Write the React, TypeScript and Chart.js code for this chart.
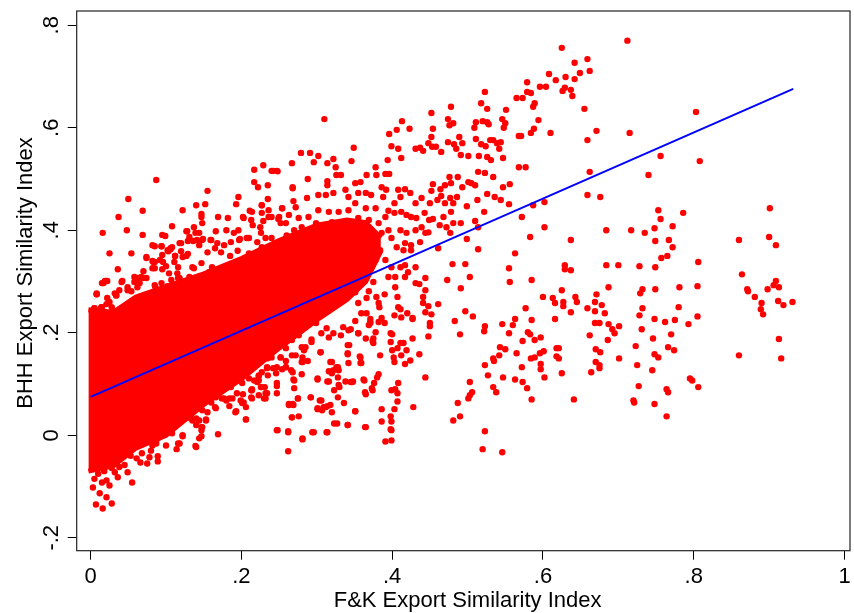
import { useEffect, useRef } from "react";
import { Chart, registerables } from "chart.js";

Chart.register(...registerables);

// Axis ticks and titles
const xTicks = [0, 0.2, 0.4, 0.6, 0.8, 1];
const xTickLabels = ["0", ".2", ".4", ".6", ".8", "1"];
const yTicks = [-0.2, 0, 0.2, 0.4, 0.6, 0.8];
const yTickLabels = ["-.2", "0", ".2", ".4", ".6", ".8"];
const xTitle = "F&K Export Similarity Index";
const yTitle = "BHH Export Similarity Index";

// Fitted line (end points)
const fitX = [0, 0.932];
const fitY = [0.075, 0.676];

// Overplotted core of the cloud (solid red band)
const coreX = [-0.003, 0.03, 0.06, 0.1, 0.15, 0.2, 0.25, 0.3, 0.34, 0.365, 0.385];
const coreUpper = [0.245, 0.24, 0.27, 0.29, 0.315, 0.345, 0.38, 0.41, 0.42, 0.415, 0.385];
const coreLower = [-0.07, -0.06, -0.025, 0.0, 0.06, 0.11, 0.17, 0.225, 0.265, 0.3, 0.36];

// Scattered points, by region of the plot
const leftTail: [number, number][] = [
  [0.007, -0.135], [0.016, -0.143], [0.021, -0.121], [0.028, -0.133], [0.012, -0.113], [0.003, -0.102],
  [0.025, -0.098], [0.021, -0.088], [0.036, -0.082], [0.055, -0.092], [0.049, -0.072], [0.028, -0.064],
  [0.038, -0.062], [0.061, -0.045], [0.066, -0.053], [0.075, -0.055], [0.089, -0.051], [0.089, -0.041],
  [0.078, -0.043], [0.1, -0.02], [0.114, -0.027], [0.116, -0.016], [0.087, -0.016], [0.091, -0.004],
  [0.108, 0.004], [0.122, -0.002], [0.139, -0.021], [0.169, 0.002], [0.147, -0.002], [0.148, 0.016],
  [0.14, 0.02], [0.153, 0.031], [0.144, 0.029], [0.133, 0.033], [0.141, 0.055], [0.148, 0.063],
  [0.165, 0.055], [0.177, 0.072], [0.184, 0.072], [0.193, 0.047], [0.206, 0.031], [0.201, 0.063],
  [0.213, 0.074], [0.202, 0.08], [0.214, 0.09], [0.232, 0.082], [0.226, 0.094], [0.201, 0.102],
  [0.186, 0.094], [0.173, 0.094], [0.166, 0.082], [0.223, 0.107], [0.227, 0.123],
  [0.005, -0.085], [0.01, -0.075], [0.015, -0.092], [0.018, -0.07], [0.032, -0.072], [0.045, -0.058],
  [0.053, -0.04], [0.068, -0.035], [0.08, -0.03],
];

const edgeLower: [number, number][] = [
  [0.144, -0.006], [0.14, -0.023], [0.122, 0.0], [0.118, -0.016], [0.147, 0.01], [0.135, 0.029],
  [0.147, 0.016], [0.153, 0.029], [0.14, 0.033], [0.131, 0.035], [0.148, 0.049], [0.155, 0.045],
  [0.166, 0.053], [0.18, 0.068], [0.174, 0.072], [0.188, 0.072], [0.184, 0.057], [0.192, 0.045],
  [0.206, 0.031], [0.206, 0.055], [0.199, 0.068], [0.194, 0.082], [0.203, 0.064], [0.213, 0.088],
  [0.214, 0.072], [0.223, 0.078], [0.232, 0.072], [0.231, 0.094], [0.221, 0.104], [0.21, 0.111],
  [0.223, 0.117], [0.235, 0.117], [0.247, 0.102], [0.247, 0.082], [0.246, 0.121], [0.259, 0.133],
  [0.266, 0.127], [0.27, 0.107], [0.27, 0.092], [0.247, 0.01], [0.262, 0.006], [0.267, 0.035],
  [0.263, 0.059], [0.268, 0.061], [0.275, 0.072], [0.281, -0.006], [0.294, 0.006], [0.313, 0.006],
  [0.292, 0.074], [0.301, 0.111], [0.306, 0.068], [0.316, 0.105], [0.32, 0.121], [0.318, 0.143],
  [0.329, 0.127], [0.328, 0.133], [0.323, 0.088], [0.33, 0.094], [0.341, 0.158], [0.341, 0.176],
  [0.357, 0.154], [0.358, 0.141], [0.345, 0.104], [0.347, 0.104], [0.363, 0.107], [0.373, 0.092],
  [0.364, 0.084], [0.351, 0.047], [0.318, 0.059], [0.307, 0.049], [0.301, 0.053], [0.312, 0.055],
  [0.323, 0.023], [0.341, 0.02], [0.364, 0.016], [0.316, 0.191], [0.322, 0.199], [0.332, 0.195],
  [0.335, 0.211], [0.342, 0.205], [0.355, 0.199], [0.369, 0.215], [0.371, 0.221], [0.375, 0.189],
  [0.382, 0.221], [0.306, 0.199], [0.305, 0.162], [0.293, 0.187], [0.285, 0.172], [0.281, 0.143],
  [0.281, 0.152], [0.272, 0.156], [0.267, 0.186], [0.276, 0.195], [0.283, 0.211], [0.299, 0.219],
  [0.313, 0.209], [0.259, 0.145], [0.247, 0.133], [0.234, 0.133], [0.259, 0.17], [0.252, 0.152],
  [0.236, 0.152], [0.223, 0.152], [0.21, 0.133], [0.197, 0.121], [0.188, 0.104], [0.18, 0.094],
  [0.166, 0.074], [0.16, 0.064], [0.144, 0.055], [0.131, 0.049], [0.122, 0.033], [0.115, 0.023],
  [0.104, 0.016], [0.095, 0.004], [0.087, -0.01], [0.082, -0.02],
];

const edgeUpper: [number, number][] = [
  [0.094, 0.369], [0.074, 0.348], [0.082, 0.34], [0.085, 0.326], [0.095, 0.324], [0.102, 0.361],
  [0.106, 0.365], [0.112, 0.35], [0.111, 0.338], [0.12, 0.359], [0.122, 0.348], [0.129, 0.354],
  [0.12, 0.375], [0.128, 0.398], [0.137, 0.406], [0.139, 0.395], [0.131, 0.387], [0.141, 0.381],
  [0.148, 0.381], [0.147, 0.426], [0.16, 0.381], [0.168, 0.375], [0.177, 0.371], [0.186, 0.377],
  [0.196, 0.4], [0.198, 0.383], [0.202, 0.426], [0.213, 0.42], [0.215, 0.41], [0.225, 0.406],
  [0.229, 0.418], [0.236, 0.426], [0.249, 0.422], [0.252, 0.414], [0.221, 0.377], [0.232, 0.385],
  [0.24, 0.385], [0.247, 0.367], [0.227, 0.367], [0.137, 0.326], [0.147, 0.336], [0.155, 0.357],
  [0.165, 0.365], [0.173, 0.357], [0.096, 0.338], [0.116, 0.307], [0.062, 0.307], [0.074, 0.307],
  [0.058, 0.299], [0.019, 0.301], [0.015, 0.297], [0.008, 0.275], [0.034, 0.273], [0.022, 0.268],
  [0.038, 0.283], [0.049, 0.289], [0.054, 0.281], [0.062, 0.289], [0.085, 0.293], [0.094, 0.297],
  [0.107, 0.303], [0.102, 0.291], [0.005, 0.248], [0.015, 0.25], [0.021, 0.256], [0.005, 0.238],
  [0.012, 0.24], [0.028, 0.25], [0.185, 0.35], [0.195, 0.36], [0.21, 0.355], [0.26, 0.39],
  [0.27, 0.4], [0.285, 0.39], [0.3, 0.395], [0.315, 0.4], [0.33, 0.39], [0.345, 0.385],
];

const upperLeft: [number, number][] = [
  [0.087, 0.498], [0.05, 0.461], [0.069, 0.438], [0.037, 0.426], [0.048, 0.4], [0.016, 0.395],
  [0.069, 0.391], [0.025, 0.355], [0.054, 0.355], [0.074, 0.346], [0.036, 0.324], [0.022, 0.301],
  [0.016, 0.297], [0.008, 0.277], [0.085, 0.369], [0.095, 0.391], [0.108, 0.408], [0.122, 0.439],
  [0.155, 0.477], [0.14, 0.449], [0.152, 0.451], [0.169, 0.426], [0.182, 0.424], [0.196, 0.465],
  [0.193, 0.451], [0.217, 0.518], [0.229, 0.527], [0.217, 0.494], [0.235, 0.488], [0.242, 0.516],
  [0.248, 0.515], [0.267, 0.531], [0.268, 0.482], [0.235, 0.461], [0.269, 0.457], [0.211, 0.438],
  [0.166, 0.398], [0.18, 0.4], [0.159, 0.381], [0.127, 0.398], [0.118, 0.375], [0.108, 0.367],
  [0.144, 0.395], [0.19, 0.395], [0.207, 0.385], [0.144, 0.371], [0.083, 0.338], [0.092, 0.342],
  [0.1, 0.33], [0.058, 0.309], [0.067, 0.309], [0.042, 0.301], [0.032, 0.277], [0.115, 0.316],
  [0.135, 0.328], [0.161, 0.328], [0.226, 0.395], [0.24, 0.426], [0.254, 0.443], [0.147, 0.432],
  [0.148, 0.414], [0.099, 0.389], [0.203, 0.424], [0.227, 0.434], [0.227, 0.449], [0.197, 0.381],
  [0.21, 0.385], [0.149, 0.383], [0.136, 0.379], [0.129, 0.379], [0.082, 0.371], [0.094, 0.369],
  [0.106, 0.363], [0.103, 0.359], [0.112, 0.35], [0.127, 0.35], [0.085, 0.338], [0.095, 0.352],
  [0.116, 0.328], [0.104, 0.316], [0.082, 0.326], [0.07, 0.32], [0.069, 0.307], [0.059, 0.307],
  [0.065, 0.297], [0.041, 0.299], [0.017, 0.297], [0.021, 0.301], [0.008, 0.275], [0.005, 0.248],
  [0.014, 0.25], [0.025, 0.26], [0.034, 0.273], [0.049, 0.283], [0.118, 0.307], [0.131, 0.309],
  [0.157, 0.318], [0.086, 0.289],
];

const upperMid: [number, number][] = [
  [0.31, 0.617], [0.279, 0.551], [0.291, 0.551], [0.302, 0.545], [0.296, 0.533], [0.322, 0.539],
  [0.314, 0.531], [0.349, 0.561], [0.346, 0.535], [0.24, 0.516], [0.247, 0.516], [0.222, 0.484],
  [0.268, 0.484], [0.288, 0.5], [0.314, 0.496], [0.326, 0.508], [0.314, 0.488], [0.332, 0.508],
  [0.325, 0.523], [0.351, 0.492], [0.358, 0.494], [0.366, 0.508], [0.378, 0.523], [0.379, 0.508],
  [0.391, 0.51], [0.396, 0.51], [0.394, 0.537], [0.399, 0.564], [0.396, 0.588], [0.406, 0.596],
  [0.413, 0.613], [0.423, 0.598], [0.408, 0.559], [0.412, 0.541], [0.431, 0.559], [0.437, 0.561],
  [0.441, 0.555], [0.448, 0.57], [0.452, 0.582], [0.454, 0.598], [0.452, 0.629], [0.478, 0.641],
  [0.474, 0.617], [0.476, 0.605], [0.481, 0.609], [0.453, 0.563], [0.458, 0.563], [0.465, 0.553],
  [0.474, 0.572], [0.482, 0.568], [0.489, 0.582], [0.493, 0.57], [0.485, 0.559], [0.491, 0.547],
  [0.501, 0.545], [0.509, 0.6], [0.511, 0.611], [0.518, 0.648], [0.523, 0.67], [0.526, 0.637],
  [0.52, 0.613], [0.526, 0.611], [0.528, 0.607], [0.511, 0.578], [0.518, 0.568], [0.524, 0.564],
  [0.53, 0.576], [0.534, 0.576], [0.539, 0.57], [0.544, 0.572], [0.551, 0.635], [0.546, 0.617],
  [0.55, 0.609], [0.548, 0.6], [0.542, 0.559], [0.547, 0.541], [0.515, 0.545], [0.526, 0.543],
  [0.531, 0.537], [0.514, 0.514], [0.523, 0.512], [0.534, 0.504], [0.565, 0.658], [0.573, 0.658],
  [0.579, 0.67], [0.584, 0.668], [0.579, 0.689], [0.589, 0.648], [0.587, 0.641], [0.596, 0.68],
  [0.604, 0.68], [0.608, 0.705], [0.617, 0.693], [0.594, 0.615], [0.588, 0.598], [0.584, 0.59],
  [0.61, 0.59], [0.568, 0.584], [0.571, 0.584], [0.568, 0.523], [0.577, 0.523], [0.556, 0.49],
  [0.547, 0.484], [0.555, 0.451], [0.536, 0.465], [0.526, 0.471], [0.513, 0.459], [0.522, 0.436],
  [0.51, 0.418], [0.499, 0.447], [0.505, 0.492], [0.51, 0.488], [0.501, 0.494], [0.493, 0.484],
  [0.487, 0.504], [0.476, 0.504], [0.478, 0.492], [0.47, 0.488], [0.454, 0.49], [0.464, 0.48],
  [0.452, 0.477], [0.465, 0.467], [0.477, 0.463], [0.486, 0.465], [0.481, 0.453], [0.47, 0.453],
  [0.46, 0.459], [0.45, 0.453], [0.439, 0.463], [0.431, 0.453], [0.424, 0.473], [0.417, 0.48],
  [0.408, 0.479], [0.411, 0.465], [0.403, 0.453], [0.392, 0.479], [0.386, 0.484], [0.388, 0.465],
  [0.395, 0.438], [0.403, 0.434], [0.412, 0.436], [0.419, 0.43], [0.425, 0.426], [0.432, 0.424],
  [0.443, 0.434], [0.454, 0.422], [0.449, 0.42], [0.463, 0.41], [0.468, 0.426], [0.472, 0.406],
  [0.477, 0.395], [0.481, 0.414], [0.439, 0.406], [0.448, 0.396], [0.431, 0.4], [0.419, 0.395],
  [0.411, 0.4], [0.399, 0.385], [0.406, 0.367], [0.417, 0.375], [0.425, 0.371], [0.437, 0.377],
  [0.444, 0.395], [0.415, 0.361], [0.425, 0.361], [0.499, 0.383], [0.514, 0.363], [0.514, 0.406],
  [0.491, 0.414], [0.478, 0.436], [0.461, 0.365], [0.48, 0.334], [0.497, 0.334], [0.544, 0.459],
  [0.602, 0.455], [0.587, 0.449], [0.572, 0.426], [0.602, 0.406], [0.583, 0.387], [0.563, 0.355],
  [0.555, 0.326], [0.254, 0.443], [0.272, 0.445], [0.287, 0.463], [0.302, 0.469], [0.312, 0.469],
  [0.322, 0.473], [0.338, 0.479], [0.342, 0.465], [0.355, 0.473], [0.365, 0.473], [0.372, 0.469],
  [0.351, 0.453], [0.365, 0.443], [0.378, 0.443], [0.342, 0.439], [0.329, 0.436], [0.316, 0.436],
  [0.302, 0.439], [0.289, 0.426], [0.276, 0.424], [0.263, 0.43], [0.25, 0.426], [0.236, 0.439],
  [0.227, 0.449], [0.214, 0.436], [0.259, 0.414], [0.28, 0.406], [0.299, 0.414], [0.32, 0.416],
  [0.338, 0.416], [0.355, 0.424], [0.369, 0.42], [0.382, 0.414], [0.391, 0.426], [0.386, 0.395],
  [0.395, 0.4], [0.372, 0.395], [0.359, 0.395], [0.378, 0.375], [0.365, 0.367], [0.384, 0.361],
  [0.391, 0.342], [0.378, 0.342], [0.399, 0.328], [0.411, 0.328], [0.417, 0.332], [0.431, 0.328],
  [0.395, 0.309], [0.404, 0.309],
];

const lowerMid: [number, number][] = [
  [0.404, 0.289], [0.417, 0.309], [0.421, 0.318], [0.431, 0.297], [0.436, 0.295], [0.444, 0.307],
  [0.444, 0.283], [0.441, 0.27], [0.441, 0.258], [0.448, 0.252], [0.444, 0.24], [0.452, 0.236],
  [0.45, 0.219], [0.45, 0.213], [0.448, 0.193], [0.461, 0.256], [0.473, 0.303], [0.503, 0.309],
  [0.491, 0.287], [0.497, 0.242], [0.507, 0.232], [0.483, 0.223], [0.49, 0.197], [0.556, 0.299],
  [0.585, 0.303], [0.6, 0.27], [0.613, 0.268], [0.616, 0.258], [0.616, 0.227], [0.577, 0.248],
  [0.563, 0.227], [0.585, 0.225], [0.546, 0.217], [0.56, 0.215], [0.555, 0.199], [0.523, 0.213],
  [0.522, 0.203], [0.58, 0.201], [0.583, 0.197], [0.589, 0.186], [0.597, 0.191], [0.573, 0.184],
  [0.543, 0.172], [0.55, 0.168], [0.542, 0.156], [0.534, 0.15], [0.535, 0.145], [0.565, 0.16],
  [0.584, 0.15], [0.589, 0.152], [0.596, 0.16], [0.601, 0.164], [0.597, 0.139], [0.597, 0.129],
  [0.602, 0.113], [0.618, 0.17], [0.618, 0.154], [0.523, 0.137], [0.527, 0.117], [0.547, 0.113],
  [0.563, 0.109], [0.572, 0.133], [0.573, 0.104], [0.579, 0.092], [0.585, 0.07], [0.534, 0.094],
  [0.538, 0.084], [0.503, 0.104], [0.506, 0.084], [0.503, 0.078], [0.501, 0.072], [0.487, 0.063],
  [0.49, 0.037], [0.481, 0.029], [0.523, 0.008], [0.52, -0.027], [0.546, -0.033], [0.444, 0.113],
  [0.428, 0.055], [0.436, 0.158], [0.427, 0.189], [0.427, 0.227], [0.424, 0.146], [0.417, 0.139],
  [0.419, 0.166], [0.412, 0.156], [0.411, 0.18], [0.415, 0.18], [0.407, 0.17], [0.4, 0.166],
  [0.402, 0.152], [0.403, 0.143], [0.398, 0.182], [0.4, 0.197], [0.398, 0.199], [0.384, 0.156],
  [0.408, 0.102], [0.404, 0.09], [0.407, 0.082], [0.399, 0.088], [0.407, 0.066], [0.403, 0.051],
  [0.398, 0.037], [0.399, 0.027], [0.398, 0.012], [0.399, 0.01], [0.391, -0.012], [0.399, -0.01],
  [0.386, 0.051], [0.386, 0.027], [0.382, 0.119], [0.376, 0.102], [0.38, 0.113], [0.365, 0.08],
  [0.374, 0.088], [0.362, 0.109], [0.351, 0.047], [0.365, 0.016], [0.341, 0.02], [0.327, 0.023],
  [0.336, 0.063], [0.328, 0.074], [0.32, 0.045], [0.314, 0.057], [0.309, 0.055], [0.304, 0.068],
  [0.301, 0.051], [0.292, 0.074], [0.314, 0.006], [0.296, 0.006], [0.281, -0.008], [0.262, -0.031],
  [0.262, 0.008], [0.248, 0.01], [0.267, 0.035], [0.276, 0.037], [0.263, 0.061], [0.269, 0.059],
  [0.275, 0.072], [0.269, 0.109], [0.268, 0.123], [0.28, 0.119], [0.301, 0.109], [0.314, 0.105],
  [0.316, 0.125], [0.328, 0.113], [0.329, 0.098], [0.338, 0.105], [0.348, 0.105], [0.322, 0.127],
  [0.342, 0.141], [0.358, 0.152], [0.359, 0.141], [0.343, 0.176], [0.341, 0.16], [0.32, 0.143],
  [0.326, 0.133], [0.305, 0.162], [0.288, 0.145], [0.28, 0.143], [0.254, 0.129], [0.259, 0.133],
  [0.242, 0.131], [0.234, 0.131], [0.247, 0.096], [0.23, 0.072], [0.234, 0.082], [0.226, 0.094],
  [0.214, 0.088], [0.217, 0.107], [0.223, 0.115], [0.234, 0.15], [0.24, 0.152], [0.252, 0.152],
  [0.267, 0.156], [0.283, 0.166], [0.293, 0.182], [0.28, 0.172], [0.374, 0.184], [0.375, 0.18],
  [0.378, 0.201], [0.365, 0.189], [0.355, 0.199], [0.345, 0.207], [0.351, 0.223], [0.359, 0.238],
  [0.371, 0.227], [0.371, 0.219], [0.366, 0.238], [0.382, 0.258], [0.383, 0.25], [0.386, 0.229],
  [0.39, 0.219], [0.427, 0.229], [0.379, 0.27], [0.39, 0.275], [0.407, 0.27], [0.408, 0.25],
  [0.411, 0.246], [0.403, 0.234], [0.412, 0.23], [0.42, 0.238], [0.342, 0.283], [0.355, 0.258],
  [0.366, 0.268], [0.359, 0.297], [0.369, 0.281], [0.375, 0.299], [0.351, 0.279],
];

const upperRight: [number, number][] = [
  [0.712, 0.77], [0.625, 0.756], [0.659, 0.734], [0.642, 0.727], [0.662, 0.711], [0.649, 0.707],
  [0.63, 0.699], [0.642, 0.695], [0.629, 0.678], [0.626, 0.672], [0.637, 0.674], [0.639, 0.662],
  [0.655, 0.637], [0.671, 0.594], [0.659, 0.576], [0.715, 0.59], [0.803, 0.631], [0.662, 0.514],
  [0.756, 0.545], [0.808, 0.535], [0.74, 0.508], [0.659, 0.469], [0.676, 0.465], [0.753, 0.439],
  [0.756, 0.422], [0.786, 0.434], [0.684, 0.4], [0.717, 0.4], [0.735, 0.395], [0.748, 0.404],
  [0.749, 0.379], [0.767, 0.381], [0.772, 0.408], [0.772, 0.367], [0.637, 0.381], [0.901, 0.443],
  [0.9, 0.387], [0.909, 0.371], [0.86, 0.381], [0.864, 0.314], [0.629, 0.332], [0.629, 0.324],
  [0.637, 0.322], [0.684, 0.332], [0.7, 0.332], [0.728, 0.33], [0.749, 0.328], [0.757, 0.346],
  [0.765, 0.35], [0.806, 0.338], [0.687, 0.289], [0.625, 0.283], [0.643, 0.27], [0.671, 0.275],
  [0.729, 0.277], [0.732, 0.285], [0.749, 0.285], [0.781, 0.289], [0.805, 0.291], [0.871, 0.285],
  [0.872, 0.281], [0.881, 0.27], [0.898, 0.285], [0.909, 0.301], [0.913, 0.289], [0.906, 0.293],
];

const lowerRight: [number, number][] = [
  [0.627, 0.26], [0.627, 0.252], [0.645, 0.26], [0.637, 0.24], [0.659, 0.248], [0.669, 0.26],
  [0.669, 0.242], [0.678, 0.254], [0.682, 0.238], [0.669, 0.219], [0.675, 0.219], [0.662, 0.195],
  [0.687, 0.217], [0.692, 0.207], [0.695, 0.199], [0.701, 0.213], [0.686, 0.186], [0.67, 0.168],
  [0.676, 0.162], [0.67, 0.143], [0.675, 0.137], [0.675, 0.131], [0.664, 0.123], [0.701, 0.15],
  [0.621, 0.17], [0.621, 0.15], [0.625, 0.121], [0.641, 0.07], [0.728, 0.234], [0.732, 0.248],
  [0.731, 0.207], [0.723, 0.174], [0.725, 0.137], [0.727, 0.096], [0.72, 0.068], [0.721, 0.064],
  [0.748, 0.227], [0.746, 0.189], [0.748, 0.158], [0.753, 0.152], [0.745, 0.127], [0.748, 0.061],
  [0.762, 0.221], [0.77, 0.197], [0.766, 0.172], [0.774, 0.166], [0.775, 0.225], [0.78, 0.25],
  [0.793, 0.217], [0.805, 0.232], [0.764, 0.09], [0.766, 0.084], [0.764, 0.037], [0.795, 0.111],
  [0.798, 0.107], [0.806, 0.094], [0.86, 0.156], [0.889, 0.246], [0.89, 0.258], [0.892, 0.236],
  [0.912, 0.262], [0.919, 0.254], [0.931, 0.26], [0.913, 0.188], [0.916, 0.15],
];

const scatterGroups = [leftTail, edgeLower, edgeUpper, upperLeft, upperMid, lowerMid, upperRight, lowerRight];

const RED = "#ff0000";
const BLUE = "#0000ff";
const FONT = "'Liberation Sans', Arial, Helvetica, sans-serif";

// Stata style frame and rotated labels
const labelsPlugin = {
  id: "stataLabels",
  afterDraw(chart: any) {
    const { ctx, chartArea: a, scales } = chart;
    ctx.save();
    ctx.strokeStyle = "#222";
    ctx.lineWidth = 1.2;
    ctx.strokeRect(a.left, a.top, a.right - a.left, a.bottom - a.top);

    ctx.fillStyle = "#000";
    ctx.font = `22px ${FONT}`;
    ctx.textAlign = "center";
    ctx.textBaseline = "alphabetic";
    xTicks.forEach((v, i) => {
      ctx.fillText(xTickLabels[i], scales.x.getPixelForValue(v), a.bottom + 32);
    });
    const xMid = (scales.x.getPixelForValue(xTicks[0]) + scales.x.getPixelForValue(xTicks[xTicks.length - 1])) / 2;
    ctx.fillText(xTitle, xMid, a.bottom + 56.5);

    yTicks.forEach((v, i) => {
      ctx.save();
      ctx.translate(a.left - 19.2, scales.y.getPixelForValue(v));
      ctx.rotate(-Math.PI / 2);
      ctx.fillText(yTickLabels[i], 0, 0);
      ctx.restore();
    });
    ctx.save();
    ctx.translate(a.left - 44.7, 273);
    ctx.rotate(-Math.PI / 2);
    ctx.fillText(yTitle, 0, 0);
    ctx.restore();
    ctx.restore();
  },
};

export default function App() {
  const chartRef = useRef<HTMLCanvasElement>(null);
  const chartInstance = useRef<Chart | null>(null);

  useEffect(() => {
    if (!chartRef.current) return;
    if (chartInstance.current) chartInstance.current.destroy();

    const points = scatterGroups.flat().map(([x, y]) => ({ x, y }));

    chartInstance.current = new Chart(chartRef.current, {
      type: "scatter",
      data: {
        datasets: [
          {
            type: "line",
            label: "Fitted values",
            data: fitX.map((x, i) => ({ x, y: fitY[i] })),
            borderColor: BLUE,
            borderWidth: 2,
            pointRadius: 0,
            fill: false,
          },
          {
            type: "scatter",
            label: "BHH",
            data: points,
            backgroundColor: RED,
            borderWidth: 0,
            pointRadius: 3.2,
          },
          {
            type: "line",
            label: "core lower",
            data: coreX.map((x, i) => ({ x, y: coreLower[i] })),
            borderColor: RED,
            borderWidth: 5,
            pointRadius: 0,
            fill: false,
          },
          {
            type: "line",
            label: "core upper",
            data: coreX.map((x, i) => ({ x, y: coreUpper[i] })),
            borderColor: RED,
            backgroundColor: RED,
            borderWidth: 5,
            pointRadius: 0,
            fill: "-1",
          },
        ],
      } as any,
      options: {
        animation: false,
        responsive: false,
        events: [],
        layout: { padding: { top: 11, right: 0.5, left: 0, bottom: 0 } },
        plugins: {
          legend: { display: false },
          tooltip: { enabled: false },
        },
        scales: {
          x: {
            type: "linear",
            min: -0.0185,
            max: 1.0073,
            afterBuildTicks: (s: any) => {
              s.ticks = xTicks.map((v) => ({ value: v }));
            },
            afterFit: (s: any) => {
              s.height = 62.3;
            },
            grid: { drawOnChartArea: false, drawTicks: true, tickLength: 9, color: "#000", lineWidth: 1 },
            border: { display: false },
            ticks: { display: false },
          },
          y: {
            type: "linear",
            min: -0.2252,
            max: 0.8279,
            afterBuildTicks: (s: any) => {
              s.ticks = yTicks.map((v) => ({ value: v }));
            },
            afterFit: (s: any) => {
              s.width = 76.7;
            },
            grid: { drawOnChartArea: false, drawTicks: true, tickLength: 9, color: "#000", lineWidth: 1 },
            border: { display: false },
            ticks: { display: false },
          },
        },
      } as any,
      plugins: [labelsPlugin],
    });

    return () => {
      if (chartInstance.current) {
        chartInstance.current.destroy();
        chartInstance.current = null;
      }
    };
  }, []);

  return (
    <div style={{ position: "absolute", left: 0, top: 0, width: 854, height: 613, background: "#fff" }}>
      <canvas ref={chartRef} width={854} height={613} style={{ display: "block" }} />
    </div>
  );
}
